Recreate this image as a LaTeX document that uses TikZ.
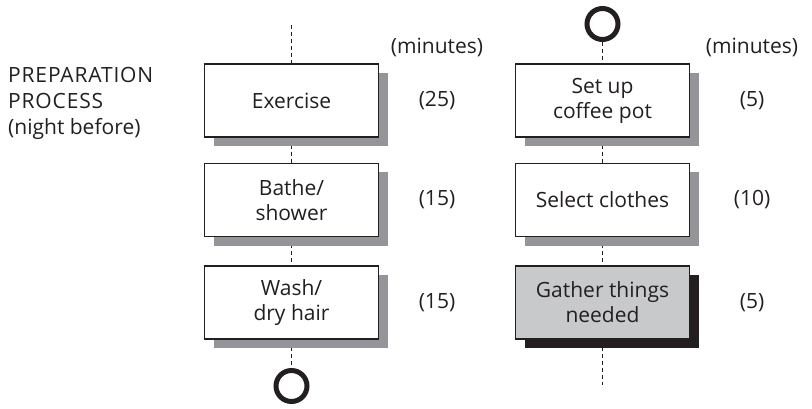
\documentclass[tikz,border=0pt]{standalone}
\usepackage{fontspec}
\setmainfont{Open Sans}
\usetikzlibrary{shadows,backgrounds}
\definecolor{ink}{HTML}{231F20}
\definecolor{shade}{HTML}{939598}
\definecolor{lightfill}{HTML}{C8C9CB}
\tikzset{
  boxbase/.style={draw=ink, line width=1.2pt, minimum width=174pt, minimum height=73pt,
    align=center, text=ink, inner sep=0pt, font=\fontsize{21}{25}\selectfont},
  stepbox/.style={boxbase, fill=white,
    drop shadow={shadow xshift=9pt, shadow yshift=-9pt, fill=shade, opacity=1}},
  keybox/.style={boxbase, fill=lightfill,
    drop shadow={shadow xshift=9pt, shadow yshift=-9pt, fill=ink, opacity=1}},
  flow/.style={draw=ink, line width=1.2pt, dash pattern=on 4pt off 3pt},
  terminal/.style={circle, draw=ink, line width=5pt, minimum size=31pt, inner sep=0pt},
  note/.style={text=ink, font=\fontsize{21}{26}\selectfont, inner sep=0pt}
}
\begin{document}
\begin{tikzpicture}[x=1pt, y=-1pt]
  \useasboundingbox (0,0) rectangle (812,409);

  % title
  \node[note, anchor=west, align=left] (title) at (8,103)
    {\addfontfeature{LetterSpace=4}PREPARATION\\\addfontfeature{LetterSpace=4}PROCESS\\(night before)};

  % left column
  \node[stepbox] (L1) at (291.5,100.5) {Exercise};
  \node[stepbox] (L2) at (291.5,200) {Bathe/\\shower};
  \node[stepbox] (L3) at (291.5,302.5) {Wash/\\dry hair};
  \node[terminal] (endL) at (291.5,386) {};
  \coordinate (startL) at (291.5,25);

  % right column
  \node[terminal] (startR) at (602.5,24) {};
  \node[stepbox] (R1) at (602.5,100.5) {Set up\\coffee pot};
  \node[stepbox] (R2) at (602.5,200) {Select clothes};
  \node[keybox] (R3) at (602.5,302.5) {Gather things\\needed};
  \coordinate (endR) at (602.5,385);

  % durations
  \node[note] (mL) at (437,47) {(minutes)};
  \node[note] (tL1) at (437,100.5) {(25)};
  \node[note] (tL2) at (437,200) {(15)};
  \node[note] (tL3) at (437,302.5) {(15)};
  \node[note] (mR) at (752,47) {(minutes)};
  \node[note] (tR1) at (752,100.5) {(5)};
  \node[note] (tR2) at (752,200) {(10)};
  \node[note] (tR3) at (752,302.5) {(5)};

  % dashed flow lines behind the boxes and their shadows
  \begin{pgfonlayer}{background}
    \draw[flow] (startL) -- (L1);
    \draw[flow] (L1) -- (L2);
    \draw[flow] (L2) -- (L3);
    \draw[flow] (L3) -- (endL);
    \draw[flow] (startR) -- (R1);
    \draw[flow] (R1) -- (R2);
    \draw[flow] (R2) -- (R3);
    \draw[flow] (R3) -- (endR);
  \end{pgfonlayer}
\end{tikzpicture}
\end{document}
